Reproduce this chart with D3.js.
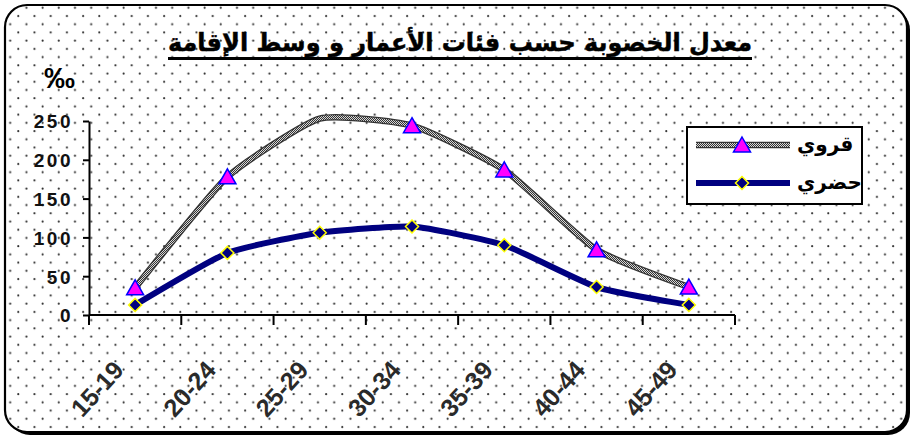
<!DOCTYPE html>
<html><head><meta charset="utf-8">
<script src="https://cdn.jsdelivr.net/npm/d3@7/dist/d3.min.js"></script>
<style>html,body{margin:0;padding:0;background:#fff;}svg{display:block;}</style>
</head><body>
<script>
const titleText = "معدل الخصوبة حسب فئات الأعمار و  وسط الإقامة";
const unitLabel = "‰";
const categories = ["15-19","20-24","25-29","30-34","35-39","40-44","45-49"];
const ruralName = "قروي";
const urbanName = "حضري";
const ruralValues = [35, 178, 253, 244, 187, 84, 36];
const urbanValues = [13, 80, 106, 114, 90, 36, 13];
const yTicks = [0, 50, 100, 150, 200, 250];
const ruralHiddenMarkers = ["25-29"];

const W = 913, H = 438;
const svg = d3.select("body").append("svg").attr("width", W).attr("height", H);
const defs = svg.append("defs");

const dots = defs.append("pattern").attr("id","dots").attr("patternUnits","userSpaceOnUse")
  .attr("x",-1.9).attr("y",-4.44).attr("width",16.2).attr("height",16.44);
dots.append("circle").attr("cx",4).attr("cy",4).attr("r",1.05).attr("fill","#2a2a2a");
dots.append("circle").attr("cx",12.1).attr("cy",12.22).attr("r",1.05).attr("fill","#2a2a2a");

const checker = defs.append("pattern").attr("id","checker").attr("patternUnits","userSpaceOnUse")
  .attr("width",2).attr("height",2);
checker.append("rect").attr("width",2).attr("height",2).attr("fill","#d8d8d8");
checker.append("rect").attr("width",1).attr("height",1).attr("fill","#333");
checker.append("rect").attr("x",1).attr("y",1).attr("width",1).attr("height",1).attr("fill","#333");

// frame with shadow
svg.append("rect").attr("x",8).attr("y",8).attr("width",902).attr("height",427).attr("rx",22).attr("fill","#000");
svg.append("rect").attr("x",5).attr("y",5).attr("width",902).attr("height",427).attr("rx",22)
  .attr("fill","#fff").attr("stroke","#000").attr("stroke-width",2.2);
svg.append("rect").attr("x",6).attr("y",6).attr("width",900).attr("height",425).attr("rx",21)
  .attr("fill","url(#dots)");

// title
const title = svg.append("text").attr("x",460).attr("y",51).attr("text-anchor","middle")
  .attr("font-family","'DejaVu Sans', Arial, sans-serif").attr("font-weight","bold")
  .attr("font-size",25).attr("fill","#000").attr("stroke","#000").attr("stroke-width",0.5).text(titleText);
title.attr("textLength",584).attr("lengthAdjust","spacingAndGlyphs");
svg.append("line").attr("x1",168).attr("x2",752).attr("y1",58.5).attr("y2",58.5)
  .attr("stroke","#000").attr("stroke-width",3);

svg.append("text").attr("x",44).attr("y",88).attr("font-family","'Liberation Sans', Arial, sans-serif")
  .attr("font-weight","bold").attr("font-size",29).attr("fill","#000")
  .attr("textLength",31).attr("lengthAdjust","spacingAndGlyphs").text(unitLabel);

// scales
const x = d3.scaleBand().domain(categories).range([89, 735]).padding(0);
const y = d3.scaleLinear().domain([0, 250]).range([315, 121]);
const cx = c => x(c) + x.bandwidth()/2;

// y axis
const yAxis = svg.append("g").attr("transform","translate(89,0)")
  .call(d3.axisLeft(y).tickValues(yTicks).tickSize(6).tickPadding(10).tickSizeOuter(0));
yAxis.select(".domain").attr("stroke","#000").attr("stroke-width",2);
yAxis.selectAll(".tick line").attr("stroke","#000").attr("stroke-width",2);
yAxis.selectAll(".tick text").attr("font-family","'Liberation Sans', Arial, sans-serif")
  .attr("font-weight","bold").attr("font-size",19).attr("letter-spacing","2.5px").attr("fill","#111").attr("dy","0.36em");

// x axis (ticks at category boundaries)
const bounds = categories.map(c => x(c)).concat([x(categories[categories.length-1]) + x.bandwidth()]);
const xg = svg.append("g");
xg.append("line").attr("x1",x.range()[0]).attr("x2",x.range()[1]).attr("y1",y(0)).attr("y2",y(0))
  .attr("stroke","#000").attr("stroke-width",2);
xg.selectAll("line.tk").data(bounds).enter().append("line").attr("class","tk")
  .attr("x1",d=>d).attr("x2",d=>d).attr("y1",y(0)).attr("y2",y(0)+10)
  .attr("stroke","#000").attr("stroke-width",2);
xg.selectAll("text").data(categories).enter().append("text")
  .attr("transform", c => `translate(${cx(c)-10},${y(0)+56}) rotate(-48)`)
  .attr("text-anchor","end")
  .attr("font-family","'Liberation Sans', Arial, sans-serif").attr("font-weight","bold")
  .attr("font-size",25).attr("fill","#2a2a2a").text(c=>c);

// lines
const line = d3.line().x((d,i)=>cx(categories[i])).y(d=>y(d)).curve(d3.curveCardinal.tension(0.5));
svg.append("path").attr("d", line(ruralValues)).attr("fill","none").attr("stroke","#333").attr("stroke-width",6.5);
svg.append("path").attr("d", line(ruralValues)).attr("fill","none").attr("stroke","url(#checker)").attr("stroke-width",4);
svg.append("path").attr("d", line(urbanValues)).attr("fill","none").attr("stroke","#000080").attr("stroke-width",6)
  .attr("stroke-linejoin","round");

const triPath = "M0,-8 L8.5,7 L-8.5,7 Z";
const diaPath = "M0,-6.5 L6.5,0 L0,6.5 L-6.5,0 Z";

svg.selectAll("path.tri").data(ruralValues.map((v,i)=>({c:categories[i],v})).filter(d=>!ruralHiddenMarkers.includes(d.c)))
  .enter().append("path").attr("class","tri").attr("d",triPath)
  .attr("transform",d=>`translate(${cx(d.c)},${y(d.v)})`)
  .attr("fill","#ff00ff").attr("stroke","#0000ff").attr("stroke-width",1.5);
svg.selectAll("path.dia").data(urbanValues.map((v,i)=>({c:categories[i],v})))
  .enter().append("path").attr("class","dia").attr("d",diaPath)
  .attr("transform",d=>`translate(${cx(d.c)},${y(d.v)})`)
  .attr("fill","#000080").attr("stroke","#ffff00").attr("stroke-width",1.5);

// legend
const lg = svg.append("g");
lg.append("rect").attr("x",687).attr("y",127).attr("width",175).attr("height",77)
  .attr("fill","#fff").attr("stroke","#000").attr("stroke-width",2);
const legendItems = [{name:ruralName, yy:145, kind:"r"},{name:urbanName, yy:183, kind:"u"}];
legendItems.forEach(it => {
  if (it.kind === "r") {
    lg.append("line").attr("x1",696).attr("x2",790).attr("y1",it.yy).attr("y2",it.yy).attr("stroke","#333").attr("stroke-width",6.5);
    lg.append("line").attr("x1",696).attr("x2",790).attr("y1",it.yy).attr("y2",it.yy).attr("stroke","url(#checker)").attr("stroke-width",4);
    lg.append("path").attr("d",triPath).attr("transform",`translate(742,${it.yy})`).attr("fill","#ff00ff").attr("stroke","#0000ff").attr("stroke-width",1.5);
  } else {
    lg.append("line").attr("x1",696).attr("x2",790).attr("y1",it.yy).attr("y2",it.yy).attr("stroke","#000080").attr("stroke-width",6);
    lg.append("path").attr("d",diaPath).attr("transform",`translate(742,${it.yy})`).attr("fill","#000080").attr("stroke","#ffff00").attr("stroke-width",1.5);
  }
  lg.append("text").attr("x",797).attr("y",it.yy+6).attr("text-anchor","start")
    .attr("font-family","'DejaVu Sans', Arial, sans-serif").attr("font-weight","bold")
    .attr("font-size",20).attr("fill","#000").text(it.name);
});
</script>
</body></html>
